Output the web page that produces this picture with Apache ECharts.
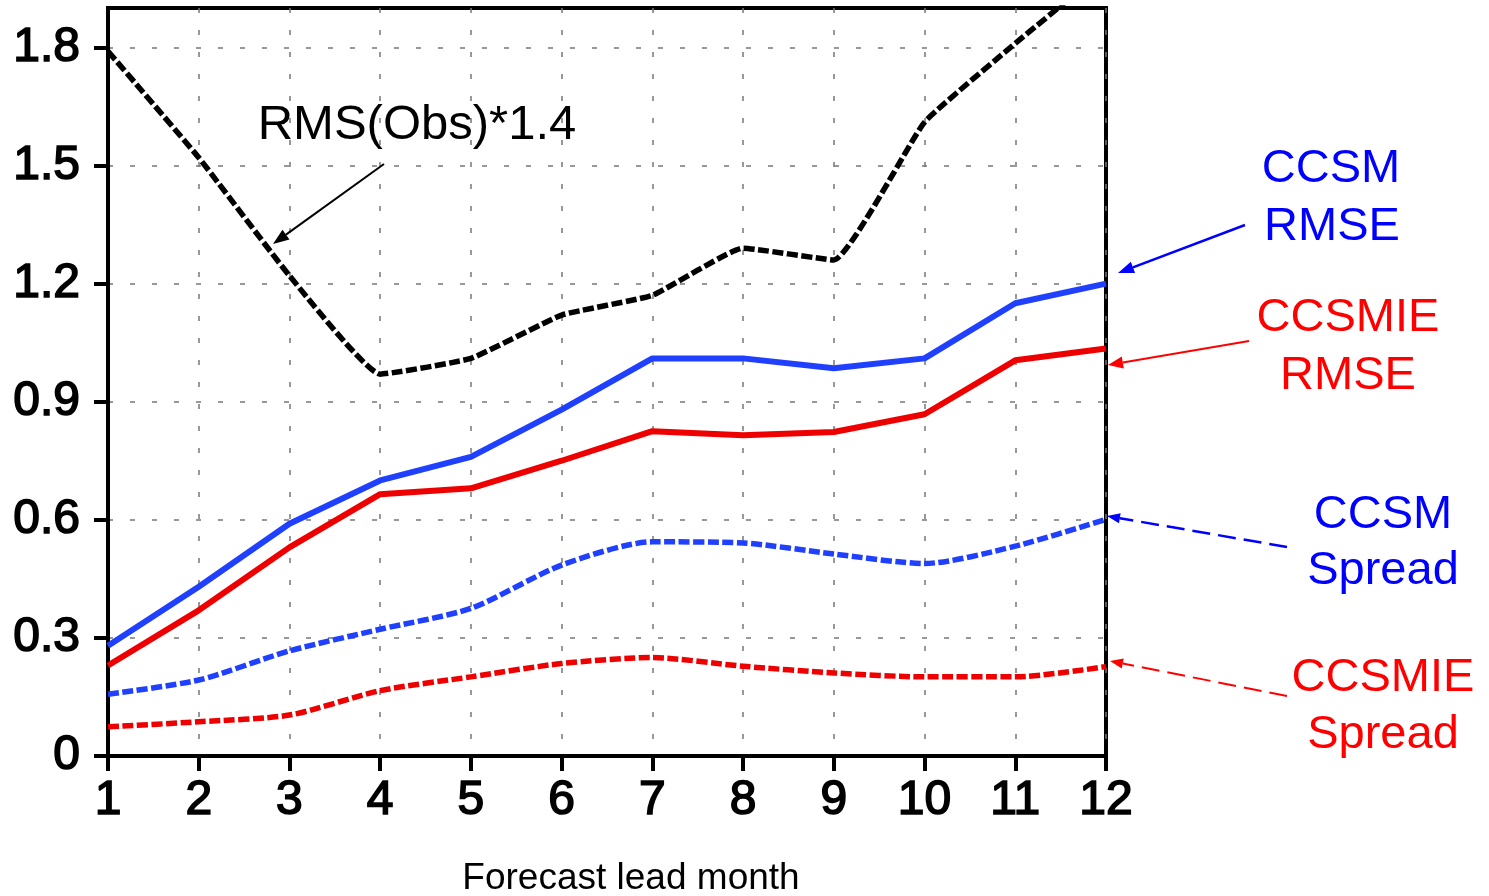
<!DOCTYPE html>
<html>
<head>
<meta charset="utf-8">
<script src="https://cdn.jsdelivr.net/npm/echarts@6/dist/echarts.min.js"></script>
<style>
html,body{margin:0;padding:0;background:#fff;}
#chart{width:1489px;height:896px;}
</style>
</head>
<body>
<div id="chart"></div>
<script>
// ---- data ----
var leadMonths = [1,2,3,4,5,6,7,8,9,10,11,12];
var rmsObs14   = [1.79,1.52,1.22,0.97,1.01,1.12,1.17,1.29,1.26,1.61,1.81,2.0];
var ccsmRmse   = [0.28,0.43,0.59,0.70,0.76,0.88,1.01,1.01,0.985,1.01,1.15,1.20];
var ccsmieRmse = [0.23,0.37,0.53,0.665,0.68,0.75,0.825,0.815,0.823,0.868,1.005,1.035];
var ccsmSpread = [0.157,0.193,0.267,0.322,0.375,0.485,0.544,0.541,0.513,0.489,0.533,0.601];
var ccsmieSpread=[0.074,0.087,0.104,0.166,0.201,0.235,0.25,0.228,0.211,0.201,0.201,0.227];
var yTicks = [0,0.3,0.6,0.9,1.2,1.5,1.8];
var xTicks = [1,2,3,4,5,6,7,8,9,10,11,12];
var xAxisTitle = 'Forecast lead month';

function pairs(vals){ return leadMonths.map(function(m,i){ return [m, vals[i]]; }); }

var FONT = '"Liberation Sans", Arial, Helvetica, sans-serif';
var BLUE_LINE = '#2040FF', RED_LINE = '#EE0000';
var BLUE_TXT = '#0000FF', RED_TXT = '#FF0000';

function arrow(x1,y1,x2,y2,color,width,dash,headLen,headHalf){
  var ang = Math.atan2(y2-y1, x2-x1);
  var bx = x2 - headLen*Math.cos(ang), by = y2 - headLen*Math.sin(ang);
  var px = -Math.sin(ang)*headHalf, py = Math.cos(ang)*headHalf;
  return [
    {type:'line', z:100, shape:{x1:x1,y1:y1,x2:bx,y2:by},
     style:{stroke:color, lineWidth:width, lineDash:dash||null}},
    {type:'polygon', z:100, shape:{points:[[x2,y2],[bx+px,by+py],[bx-px,by-py]]},
     style:{fill:color}}
  ];
}
function label(text,x,y,color,size){
  return {type:'text', z:100, style:{text:text, x:x, y:y, fill:color,
    font:'normal '+size+'px '+FONT, align:'center', verticalAlign:'middle',
    textAlign:'center', textVerticalAlign:'middle'}};
}

var graphics = [];
graphics.push(label('RMS(Obs)*1.4', 417, 125, '#000', 49));
graphics = graphics.concat(arrow(384,164,273,244,'#000',2,null,16,6));
graphics.push(label('CCSM', 1331, 169, BLUE_TXT, 47));
graphics.push(label('RMSE', 1332, 227, BLUE_TXT, 47));
graphics = graphics.concat(arrow(1245,225,1118,273,BLUE_TXT,2.5,null,16,6));
graphics.push(label('CCSMIE', 1348, 318, RED_TXT, 47));
graphics.push(label('RMSE', 1348, 376, RED_TXT, 47));
graphics = graphics.concat(arrow(1249,341,1108,365,RED_TXT,2,null,15,6));
graphics.push(label('CCSM', 1383, 515, BLUE_TXT, 47));
graphics.push(label('Spread', 1383, 571, BLUE_TXT, 47));
graphics = graphics.concat(arrow(1287,547,1107,516,BLUE_TXT,2.5,[18,8],13,5));
graphics.push(label('CCSMIE', 1383, 678, RED_TXT, 47));
graphics.push(label('Spread', 1383, 735, RED_TXT, 47));
graphics = graphics.concat(arrow(1287,696,1110,661,RED_TXT,2,[18,8],13,5));
graphics.push({type:'text', z:100, style:{text:xAxisTitle, x:631, y:879, fill:'#000',
  font:'normal 37px '+FONT, align:'center', verticalAlign:'middle',
  textAlign:'center', textVerticalAlign:'middle'}});

var gridLine = {show:true, lineStyle:{color:'#777', width:1.5, type:[5,17]}};
var tickLabel = {color:'#000', fontSize:48, fontWeight:'normal', fontFamily:FONT,
  textBorderColor:'#000', textBorderWidth:1.6};

var chart = echarts.init(document.getElementById('chart'), null, {renderer:'canvas'});
chart.setOption({
  backgroundColor:'#fff',
  animation:false,
  grid:{left:108, right:383, top:8, bottom:140, show:true, borderColor:'#000', borderWidth:4, backgroundColor:'transparent'},
  xAxis:{
    type:'value', min:1, max:12, interval:1,
    axisLine:{show:true, onZero:false, lineStyle:{color:'#000', width:4}},
    axisTick:{show:true, inside:false, length:15, lineStyle:{color:'#000', width:4}},
    axisLabel:Object.assign({margin:21, customValues:xTicks}, tickLabel),
    splitLine:gridLine
  },
  yAxis:{
    type:'value', min:0, max:1.9, interval:0.3,
    axisLine:{show:true, onZero:false, lineStyle:{color:'#000', width:4}},
    axisTick:{show:true, inside:false, length:14, lineStyle:{color:'#000', width:4}, customValues:yTicks},
    axisLabel:Object.assign({margin:28, customValues:yTicks,
      formatter:function(v){ return String(Math.round(v*10)/10); }}, tickLabel),
    splitLine:gridLine
  },
  series:[
    {name:'RMS(Obs)*1.4', type:'line', data:pairs(rmsObs14), symbol:'none', smooth:0.12, clip:true,
     lineStyle:{color:'#000', width:5.5, type:[11,3.5], cap:'butt', join:'round'}, z:5},
    {name:'CCSM RMSE', type:'line', data:pairs(ccsmRmse), symbol:'none', clip:true,
     lineStyle:{color:BLUE_LINE, width:6}, z:4},
    {name:'CCSMIE RMSE', type:'line', data:pairs(ccsmieRmse), symbol:'none', clip:true,
     lineStyle:{color:RED_LINE, width:6}, z:4},
    {name:'CCSM Spread', type:'line', data:pairs(ccsmSpread), symbol:'none', smooth:0.25, clip:true,
     lineStyle:{color:BLUE_LINE, width:5.5, type:[11,3.5], cap:'butt', join:'round'}, z:4},
    {name:'CCSMIE Spread', type:'line', data:pairs(ccsmieSpread), symbol:'none', smooth:0.25, clip:true,
     lineStyle:{color:RED_LINE, width:5.5, type:[11,3.5], cap:'butt', join:'round'}, z:4}
  ],
  graphic:graphics
});
</script>
</body>
</html>
